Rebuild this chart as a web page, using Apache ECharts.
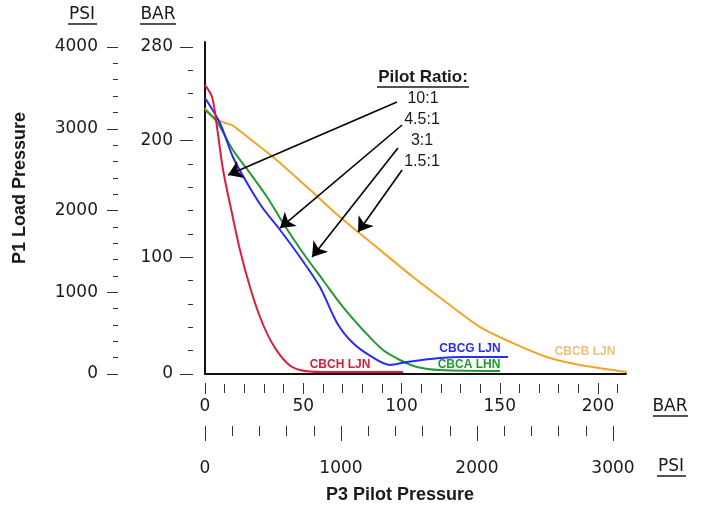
<!DOCTYPE html>
<html>
<head>
<meta charset="utf-8">
<script src="https://cdn.jsdelivr.net/npm/echarts@6/dist/echarts.min.js"></script>
<style>
html,body{margin:0;padding:0;background:#fff;}
#main{width:702px;height:508px;}
</style>
</head>
<body>
<div id="main"></div>
<script>
// ---- data (x: P3 pilot pressure in BAR, y: P1 load pressure in BAR) ----
const cbchLjn = [[0,247.4],[3.6,237.2],[6.1,211.5],[9.2,174.7],[13.7,137.8],[17.8,106.2],[22.9,74.5],[28,48.8],[34.1,26.5],[41.7,9.4],[48.3,3.4],[60,1.7],[100.8,1.7]];
const cbcgLjn = [[0,236.3],[7.6,214.9],[14.2,185.8],[21.4,163.5],[29,143],[38.2,123.3],[48.3,100.2],[58.5,74.5],[67.2,43.7],[75.3,26.5],[85,14.6],[94.1,7.7],[102.8,10.3],[119.6,13.7],[131.3,14.6],[154.2,14.6]];
const cbcaLhn = [[0,226],[6.1,215.8],[14.2,191.8],[22.9,172.1],[31.6,151.5],[39.7,129.3],[49.9,103.6],[60,80.5],[70.2,57.4],[80.4,37.7],[90.6,20.5],[99.2,12],[107.9,6],[119.6,3.4],[150.1,2.6]];
const cbcbLjn = [[0,227.7],[5.1,219.2],[10.2,214.9],[13.7,213.2],[17.8,208],[34.6,185.8],[51.9,160.1],[68.7,134.4],[89.1,106.2],[105.9,83],[123.2,60.8],[140,40.2],[156.7,26.5],[174,14.6],[190.8,7.7],[207.6,3.4],[214.8,1.7]];
const ratioLabels = ['10:1','4.5:1','3:1','1.5:1'];
// arrows: [start, tip] in data units
const ratioArrows = [
  [[97.7,232.9],[11.7,170.4]],
  [[100.3,213.2],[38.2,125]],
  [[98.2,193.5],[54.5,100.2]],
  [[100.3,174.7],[77.9,121.6]]
];
const yBarRange = [0,280], yPsiRange = [0,4000];
const xBarMax = 214.25, xBarTickMax = 210, xBarLabelMax = 200, xPsiMax = 3000;

const tickFont = 'DejaVu Sans';
const titleFont = 'Liberation Sans, Arial, sans-serif';
const pxPerBar = 1.965;

const chart = echarts.init(document.getElementById('main'));
const tickStyle = {color:'#333', width:1};
const plain = v => String(v);
const hiddenY = (g)=>({gridIndex:g, type:'value', show:false, min:0, max:1});

chart.setOption({
  animation:false,
  grid:[
    {left:205, right:76, top:42, bottom:134},            // frame
    {left:205, right:76, top:47, bottom:134},            // data + y scales
    {left:205, width:xBarTickMax*pxPerBar, top:47, bottom:134},   // bar minor ticks
    {left:205, width:xBarLabelMax*pxPerBar, top:47, bottom:134},  // bar major ticks
    {left:205, width:408, top:47, bottom:134}            // psi
  ],
  xAxis:[
    {gridIndex:0, type:'value', min:0, max:1, axisLine:{show:true, onZero:false, lineStyle:{color:'#111', width:2}}, axisTick:{show:false}, axisLabel:{show:false}, splitLine:{show:false}},
    {gridIndex:1, type:'value', min:0, max:xBarMax, show:false},
    {gridIndex:2, type:'value', min:0, max:xBarTickMax, interval:10, position:'bottom', offset:10,
      axisLine:{show:false, onZero:false}, axisTick:{show:true, length:9, lineStyle:tickStyle}, axisLabel:{show:false}, splitLine:{show:false}},
    {gridIndex:3, type:'value', min:0, max:xBarLabelMax, interval:50, position:'bottom', offset:9,
      axisLine:{show:false, onZero:false}, axisTick:{show:true, length:11, lineStyle:tickStyle},
      axisLabel:{show:true, margin:15, fontFamily:tickFont, fontSize:17, color:'#1a1a1a', formatter:plain}, splitLine:{show:false}},
    {gridIndex:4, type:'value', min:0, max:xPsiMax, interval:1000, position:'bottom', offset:52,
      axisLine:{show:false, onZero:false}, axisTick:{show:true, length:15, lineStyle:tickStyle},
      minorTick:{show:true, splitNumber:5, length:10, lineStyle:tickStyle},
      axisLabel:{show:true, margin:34, fontFamily:tickFont, fontSize:17, color:'#1a1a1a', formatter:plain}, splitLine:{show:false}}
  ],
  yAxis:[
    {gridIndex:0, type:'value', min:0, max:1, axisLine:{show:true, onZero:false, lineStyle:{color:'#111', width:2}}, axisTick:{show:false}, axisLabel:{show:false}, splitLine:{show:false}},
    {gridIndex:1, type:'value', min:yBarRange[0], max:yBarRange[1], interval:20, position:'left', offset:12,
      axisLine:{show:false, onZero:false}, axisTick:{show:true, length:5, lineStyle:tickStyle}, axisLabel:{show:false}, splitLine:{show:false}},
    {gridIndex:1, type:'value', min:yBarRange[0], max:yBarRange[1], interval:100, position:'left', offset:12,
      axisLine:{show:false, onZero:false}, axisTick:{show:true, length:13, lineStyle:tickStyle},
      axisLabel:{show:true, margin:20, fontFamily:tickFont, fontSize:17, color:'#1a1a1a', showMaxLabel:true, formatter:plain}, splitLine:{show:false}},
    {gridIndex:1, type:'value', min:yPsiRange[0], max:yPsiRange[1], interval:1000, position:'left', offset:87,
      axisLine:{show:false, onZero:false}, axisTick:{show:true, length:11, lineStyle:tickStyle},
      minorTick:{show:true, splitNumber:5, length:5, lineStyle:tickStyle},
      axisLabel:{show:true, margin:20, fontFamily:tickFont, fontSize:17, color:'#1a1a1a', formatter:plain}, splitLine:{show:false}},
    hiddenY(2), hiddenY(3), hiddenY(4)
  ],
  series:[
    {name:'CBCB LJN', type:'line', xAxisIndex:1, yAxisIndex:1, data:cbcbLjn, smooth:0.3, showSymbol:false, lineStyle:{color:'#f0a526', width:2}, z:2},
    {name:'CBCA LHN', type:'line', xAxisIndex:1, yAxisIndex:1, data:cbcaLhn, smooth:0.3, showSymbol:false, lineStyle:{color:'#229a2e', width:2}, z:3},
    {name:'CBCG LJN', type:'line', xAxisIndex:1, yAxisIndex:1, data:cbcgLjn, smooth:0.3, showSymbol:false, lineStyle:{color:'#2a2af5', width:2}, z:4},
    {name:'CBCH LJN', type:'line', xAxisIndex:1, yAxisIndex:1, data:cbchLjn, smooth:0.3, showSymbol:false, lineStyle:{color:'#d91f3c', width:2}, z:5,
      markLine:{silent:true, symbol:['none','arrow'], symbolSize:14, animation:false,
        itemStyle:{color:'#000'},
        lineStyle:{color:'#000', width:1.6, type:'solid'}, label:{show:false}, emphasis:{disabled:true},
        data: ratioArrows.map(a=>[{coord:a[0]},{coord:a[1]}])}
    }
  ],
  graphic:[
    {type:'text', x:82, y:15, style:{text:'PSI', font:'17px '+tickFont, fill:'#1a1a1a', textAlign:'center', textVerticalAlign:'middle'}},
    {type:'line', shape:{x1:68, y1:24, x2:97, y2:24}, style:{stroke:'#1a1a1a', lineWidth:1.5}},
    {type:'text', x:158, y:15, style:{text:'BAR', font:'17px '+tickFont, fill:'#1a1a1a', textAlign:'center', textVerticalAlign:'middle'}},
    {type:'line', shape:{x1:140, y1:24, x2:176, y2:24}, style:{stroke:'#1a1a1a', lineWidth:1.5}},
    {type:'text', x:670, y:407, style:{text:'BAR', font:'17px '+tickFont, fill:'#1a1a1a', textAlign:'center', textVerticalAlign:'middle'}},
    {type:'line', shape:{x1:653, y1:416, x2:688, y2:416}, style:{stroke:'#1a1a1a', lineWidth:1.5}},
    {type:'text', x:671, y:467, style:{text:'PSI', font:'17px '+tickFont, fill:'#1a1a1a', textAlign:'center', textVerticalAlign:'middle'}},
    {type:'line', shape:{x1:657, y1:476, x2:686, y2:476}, style:{stroke:'#1a1a1a', lineWidth:1.5}},
    {type:'text', x:20, y:188, rotation:Math.PI/2, style:{text:'P1 Load Pressure', font:'bold 18px '+titleFont, fill:'#1a1a1a', textAlign:'center', textVerticalAlign:'middle'}},
    {type:'text', x:400, y:495, style:{text:'P3 Pilot Pressure', font:'bold 18px '+titleFont, fill:'#1a1a1a', textAlign:'center', textVerticalAlign:'middle'}},
    {type:'text', x:423, y:77, style:{text:'Pilot Ratio:', font:'bold 17px '+titleFont, fill:'#1a1a1a', textAlign:'center', textVerticalAlign:'middle'}},
    {type:'line', shape:{x1:377, y1:87, x2:469, y2:87}, style:{stroke:'#1a1a1a', lineWidth:1.5}},
    {type:'text', x:423, y:99, style:{text:ratioLabels[0], font:'16px '+titleFont, fill:'#1a1a1a', textAlign:'center', textVerticalAlign:'middle'}},
    {type:'text', x:422, y:120, style:{text:ratioLabels[1], font:'16px '+titleFont, fill:'#1a1a1a', textAlign:'center', textVerticalAlign:'middle'}},
    {type:'text', x:422, y:141, style:{text:ratioLabels[2], font:'16px '+titleFont, fill:'#1a1a1a', textAlign:'center', textVerticalAlign:'middle'}},
    {type:'text', x:422, y:162, style:{text:ratioLabels[3], font:'16px '+titleFont, fill:'#1a1a1a', textAlign:'center', textVerticalAlign:'middle'}},
    {type:'text', x:340, y:365, style:{text:'CBCH LJN', font:'bold 12px '+titleFont, fill:'#c8243e', textAlign:'center', textVerticalAlign:'middle'}},
    {type:'text', x:470, y:349, style:{text:'CBCG LJN', font:'bold 12px '+titleFont, fill:'#2a2af5', textAlign:'center', textVerticalAlign:'middle'}},
    {type:'text', x:469, y:365, style:{text:'CBCA LHN', font:'bold 12px '+titleFont, fill:'#229a2e', textAlign:'center', textVerticalAlign:'middle'}},
    {type:'text', x:585, y:352, style:{text:'CBCB LJN', font:'bold 12px '+titleFont, fill:'#ecc27a', textAlign:'center', textVerticalAlign:'middle'}}
  ]
});
</script>
</body>
</html>
